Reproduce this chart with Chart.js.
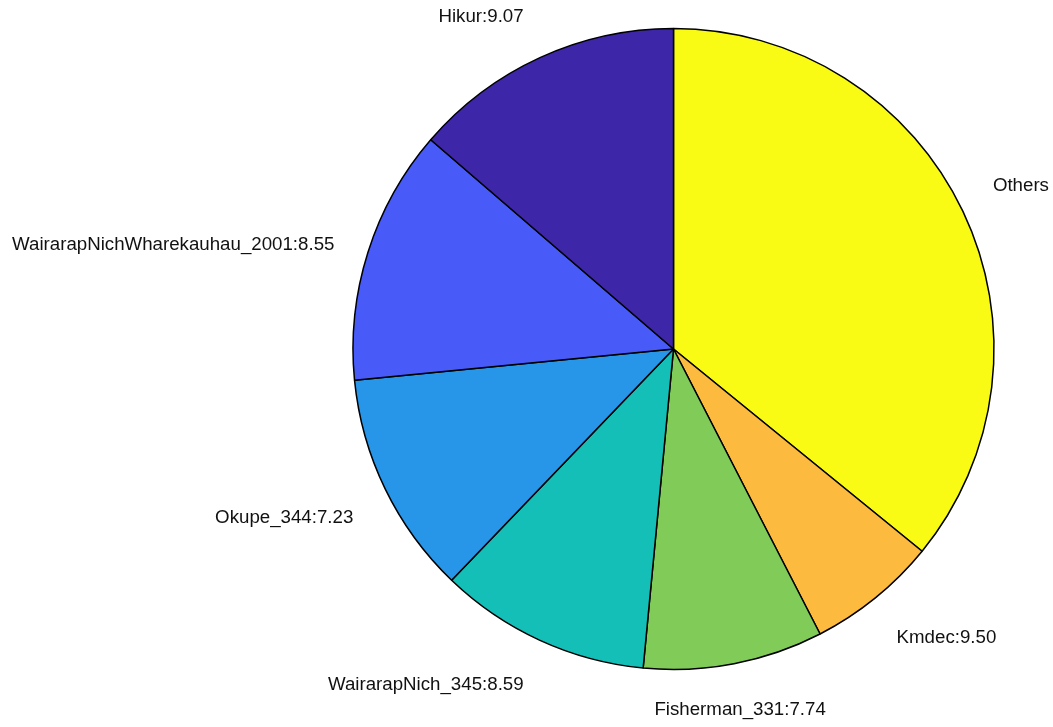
<!DOCTYPE html>
<html lang="en">
<head>
    <meta charset="UTF-8">
    <title>Pie</title>
    <script src="https://cdn.jsdelivr.net/npm/chart.js"></script>
    <style>
        html, body { margin: 0; padding: 0; background: #fff; }
        #wrap { width: 1053px; height: 727px; }
    </style>
</head>
<body>
    <div id="wrap"><canvas id="pie" width="1053" height="727"></canvas></div>

    <script>
        // slice order: clockwise from 12 o'clock
        const sliceLabels = ['Others', 'Kmdec:9.50', 'Fisherman_331:7.74', 'WairarapNich_345:8.59',
            'Okupe_344:7.23', 'WairarapNichWharekauhau_2001:8.55', 'Hikur:9.07'];
        const sliceShares = [35.87, 6.57, 9.07, 10.66, 11.28, 12.87, 13.68];
        const sliceColors = ['#f9fb15', '#fcbb3e', '#81cc59', '#14bfb8', '#2796e9', '#485bf9', '#3e26a8'];

        // labels outside the pie, placed roughly the way matlab does it
        const outsideLabels = {
            id: 'outsideLabels',
            afterDraw(chart) {
                const ctx = chart.ctx;
                const meta = chart.getDatasetMeta(0);
                ctx.save();
                ctx.font = '18.7px "Liberation Sans", Arial, sans-serif';
                ctx.fillStyle = '#111';
                ctx.textBaseline = 'middle';
                meta.data.forEach((arc, i) => {
                    const mid = (arc.startAngle + arc.endAngle) / 2;
                    const r = arc.outerRadius * 1.1;
                    const sx = Math.cos(mid);   // + to the right
                    const sy = Math.sin(mid);   // + downwards
                    let x = arc.x + r * sx;
                    let y = arc.y + r * sy;
                    if (sx > 0.3) { ctx.textAlign = 'left'; x += 1; }
                    else if (sx < -0.3) { ctx.textAlign = 'right'; x -= 3; }
                    else { ctx.textAlign = 'center'; }
                    if (sy < -0.35) y -= 12;
                    else if (sy > 0.35) y += 15;
                    else y += 2;
                    ctx.fillText(sliceLabels[i], x, y);
                });
                ctx.restore();
            }
        };

        new Chart(document.getElementById('pie'), {
            type: 'pie',
            data: {
                labels: sliceLabels,
                datasets: [{
                    data: sliceShares,
                    backgroundColor: sliceColors,
                    borderColor: '#000',
                    borderWidth: 1.5,
                    hoverOffset: 0
                }]
            },
            options: {
                responsive: false,
                animation: false,
                radius: 320.5,
                layout: { padding: { left: 294, right: 0, top: 0, bottom: 29 } },
                plugins: {
                    legend: { display: false },
                    tooltip: { enabled: false }
                }
            },
            plugins: [outsideLabels]
        });
    </script>
</body>
</html>
